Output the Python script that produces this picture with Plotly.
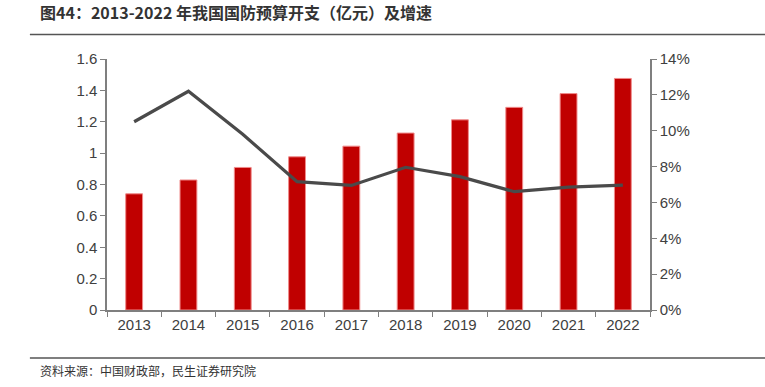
import plotly.graph_objects as go

years = ["2013", "2014", "2015", "2016", "2017", "2018", "2019", "2020", "2021", "2022"]
budget = [0.7406, 0.8289, 0.9087, 0.9766, 1.0444, 1.1280, 1.2122, 1.2918, 1.3795, 1.4760]
growth = [0.105, 0.122, 0.098, 0.0716, 0.0695, 0.0796, 0.0744, 0.066, 0.0685, 0.0697]

title_text = "图44：2013-2022 年我国国防预算开支（亿元）及增速"
source_text = "资料来源：中国财政部，民生证券研究院"

FONT = "Liberation Sans, Arial, Noto Sans CJK SC, sans-serif"
CJK = "Noto Sans CJK SC, sans-serif"
AX = "#7f7f7f"
TXT = "#404040"

fig = go.Figure()
fig.add_trace(go.Bar(
    x=years, y=budget, name="国防预算",
    marker=dict(color="#C00000", line=dict(color="#f08a8a", width=1)),
    width=0.31,
))
fig.add_trace(go.Scatter(
    x=years, y=growth, name="增速", yaxis="y2", mode="lines",
    line=dict(color="#4a4a4a", width=3.2),
))

fig.update_layout(
    width=765, height=387,
    margin=dict(l=107, r=115, t=59, b=77),
    paper_bgcolor="white", plot_bgcolor="white",
    showlegend=False,
    font=dict(family=FONT, size=15, color=TXT),
    xaxis=dict(
        type="category", showline=True, linecolor=AX, linewidth=1.5,
        ticks="outside", tickson="boundaries", ticklen=5, tickcolor=AX, tickwidth=1.2,
        tickfont=dict(size=15, color=TXT), showgrid=False,
    ),
    yaxis=dict(
        range=[0, 1.6], dtick=0.2, showline=True, linecolor=AX, linewidth=1.5,
        ticks="outside", ticklen=5, tickcolor=AX, tickwidth=1.2, showgrid=False,
        zeroline=False, tickfont=dict(size=15, color=TXT),
    ),
    yaxis2=dict(
        range=[0, 0.14], dtick=0.02, tickformat=".0%", overlaying="y", side="right",
        showline=True, linecolor=AX, linewidth=1.5, ticks="outside", ticklen=5,
        tickcolor=AX, tickwidth=1.2, showgrid=False, zeroline=False,
        tickfont=dict(size=15, color=TXT),
    ),
    annotations=[
        dict(text="<b>" + title_text + "</b>", xref="paper", yref="paper",
             x=-0.127, y=1.186, xanchor="left", yanchor="middle", showarrow=False,
             font=dict(family=CJK, size=16, color="#333333")),
        dict(text=source_text, xref="paper", yref="paper",
             x=-0.127, y=-0.243, xanchor="left", yanchor="middle", showarrow=False,
             font=dict(family=CJK, size=12, color="#333333")),
    ],
    shapes=[
        dict(type="line", xref="paper", yref="paper", x0=-0.142, x1=1.212, y0=1.098, y1=1.098,
             layer="above", line=dict(color="#555555", width=1.5)),
        dict(type="line", xref="paper", yref="paper", x0=-0.142, x1=1.212, y0=-0.191, y1=-0.191,
             layer="above", line=dict(color="#555555", width=1.5)),
    ],
)

fig.write_html("out.html", config={"displayModeBar": False},
               post_script="document.body.style.margin='0';")
